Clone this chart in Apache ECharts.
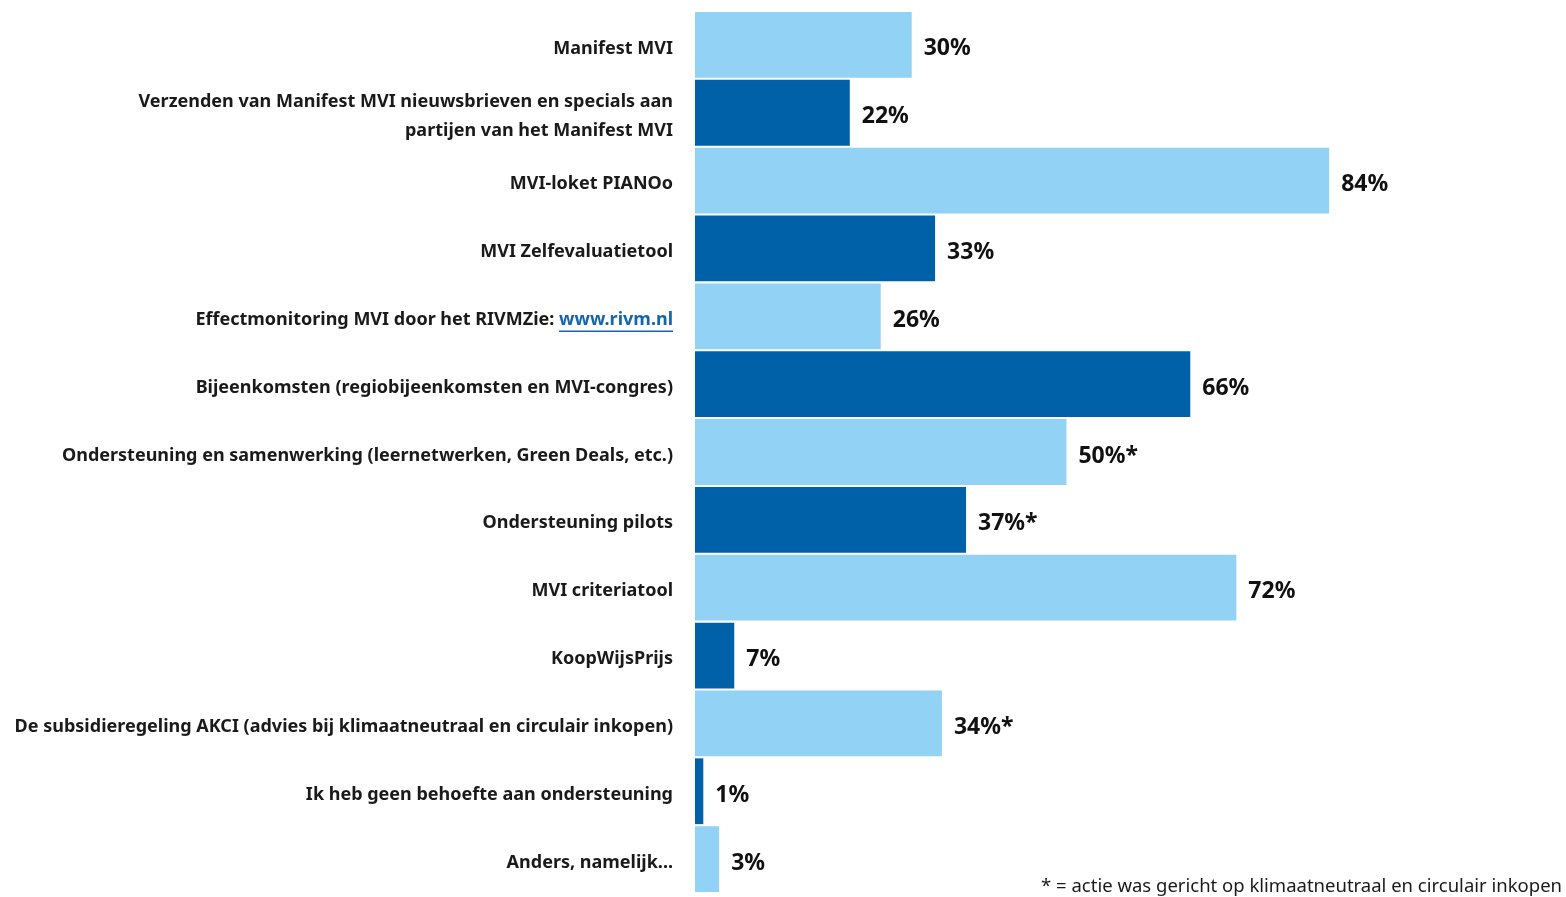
<!DOCTYPE html>
<html><head><meta charset="utf-8">
<script src="https://cdn.jsdelivr.net/npm/echarts@6/dist/echarts.min.js"></script>
<style>html,body{margin:0;padding:0;background:#fff}#c{width:1566px;height:897px}</style>
</head><body><div id="c"></div>
<script>
const categories = [
  'Manifest MVI',
  'Verzenden van Manifest MVI nieuwsbrieven en specials aan\npartijen van het Manifest MVI',
  'MVI-loket PIANOo',
  'MVI Zelfevaluatietool',
  'Effectmonitoring MVI door het RIVMZie: www.rivm.nl',
  'Bijeenkomsten (regiobijeenkomsten en MVI-congres)',
  'Ondersteuning en samenwerking (leernetwerken, Green Deals, etc.)',
  'Ondersteuning pilots',
  'MVI criteriatool',
  'KoopWijsPrijs',
  'De subsidieregeling AKCI (advies bij klimaatneutraal en circulair inkopen)',
  'Ik heb geen behoefte aan ondersteuning',
  'Anders, namelijk...'
];
const values = [28.7, 20.5, 84, 31.8, 24.6, 65.6, 49.2, 35.9, 71.7, 5.2, 32.7, 1.1, 3.2];
const valueLabels = ['30%', '22%', '84%', '33%', '26%', '66%', '50%*', '37%*', '72%', '7%', '34%*', '1%', '3%'];
const footnote = '* = actie was gericht op klimaatneutraal en circulair inkopen';
const linkText = 'www.rivm.nl';

const LIGHT = '#92D2F4', DARK = '#0061A8';
const chart = echarts.init(document.getElementById('c'), null, {renderer: 'canvas'});
const FONT = 'Noto Sans';
const FS = 18;
const option = {
  animation: false,
  grid: {left: 695, right: 116, top: 11, bottom: 4, containLabel: false},
  xAxis: {type: 'value', min: 0, max: 100, show: false},
  yAxis: {
    type: 'category', inverse: true, data: categories,
    axisLine: {show: false}, axisTick: {show: false},
    axisLabel: {
      margin: 22, fontFamily: FONT, fontWeight: 'bold', fontSize: FS, color: '#1a1a1a', lineHeight: 29,
      padding: [7, 0, 0, 0],
      formatter: function (v) {
        if (v.indexOf(linkText) >= 0) {
          return '{t|' + v.replace(linkText, '') + '}{l|' + linkText + '}';
        }
        return v;
      },
      rich: {
        t: {fontFamily: FONT, fontWeight: 'bold', fontSize: FS, color: '#1a1a1a'},
        l: {fontFamily: FONT, fontWeight: 'bold', fontSize: FS, color: '#1565AE'}
      }
    }
  },
  series: [{
    type: 'bar', barCategoryGap: '3%',
    data: values.map((v, i) => ({value: v, itemStyle: {color: i % 2 === 0 ? LIGHT : DARK}})),
    label: {
      show: true, position: 'right', distance: 12, offset: [0, 4],
      fontFamily: FONT, fontWeight: 'bold', fontSize: 23, color: '#111',
      formatter: p => valueLabels[p.dataIndex]
    }
  }],
  graphic: [{
    type: 'text', right: 4, bottom: 1,
    style: {text: footnote, fontFamily: FONT, fontSize: 18.5, fill: '#1a1a1a'}
  }]
};
chart.setOption(option);

// underline for the link text
(function () {
  const idx = categories.findIndex(c => c.indexOf(linkText) >= 0);
  const y = chart.convertToPixel({yAxisIndex: 0}, categories[idx]);
  const ctx = document.createElement('canvas').getContext('2d');
  ctx.font = 'bold ' + FS + 'px "' + FONT + '"';
  const w = ctx.measureText(linkText).width;
  const xRight = 695 - 22;
  chart.setOption({graphic: [option.graphic[0], {
    type: 'line', shape: {x1: xRight - w, y1: y + 15, x2: xRight, y2: y + 15},
    style: {stroke: '#1565AE', lineWidth: 1.5}
  }]});
})();
</script></body></html>
